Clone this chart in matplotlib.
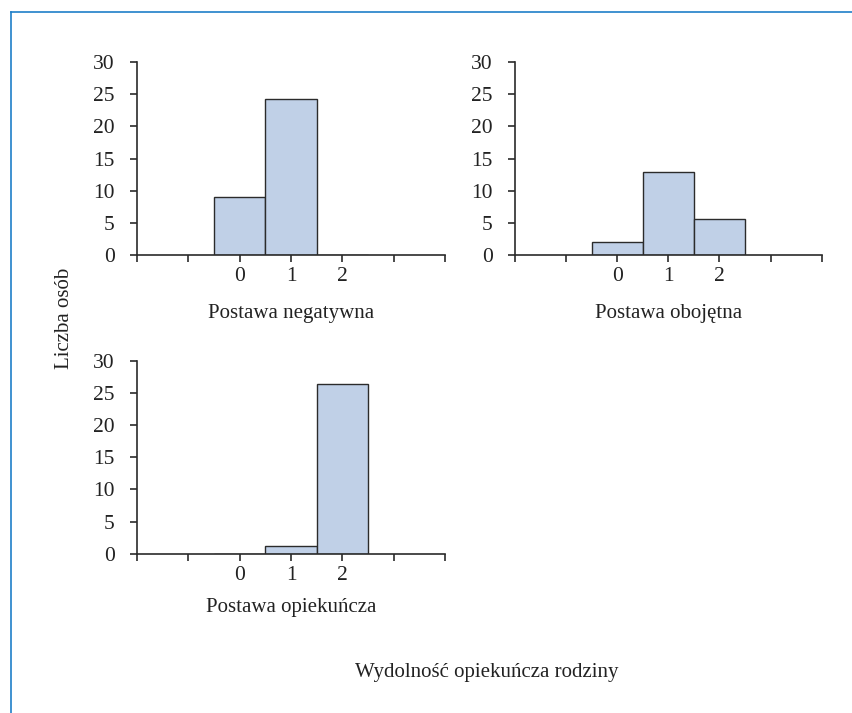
import matplotlib
matplotlib.use("Agg")
import matplotlib.pyplot as plt
from matplotlib.lines import Line2D

plt.rcParams["font.family"] = ["Liberation Serif", "DejaVu Serif"]
plt.rcParams["font.size"] = 15

# data: Wydolność opiekuńcza rodziny (0, 1, 2) vs liczba osób
levels = [0, 1, 2]
negatywna = [9, 24.2, 0]
obojetna = [2, 13, 5.6]
opiekuncza = [0, 1.2, 26.4]
titles = ["Postawa negatywna", "Postawa obojętna", "Postawa opiekuńcza"]

W, H = 853, 713
fig = plt.figure(figsize=(W / 100, H / 100), dpi=100)

boxes = [
    (137 / W, (H - 255.3) / H, 308 / W, 193.3 / H),
    (515 / W, (H - 255.3) / H, 306.7 / W, 193.3 / H),
    (137 / W, (H - 553.7) / H, 308 / W, 193 / H),
]
pads = [13, 13, 10]

tick_pos = list(range(-2, 5))
tick_lab = [str(t) if t in levels else "" for t in tick_pos]

for box, vals, title, lp in zip(boxes, [negatywna, obojetna, opiekuncza], titles, pads):
    ax = fig.add_axes(box)
    ax.bar(levels, vals, width=1.0, color="#c0d0e7", edgecolor="#2b2b2b", linewidth=1.0)
    ax.set_xlim(-2, 4)
    ax.set_ylim(0, 30)
    ax.set_yticks(range(0, 31, 5))
    ax.set_xticks(tick_pos)
    ax.set_xticklabels(tick_lab)
    ax.spines["top"].set_visible(False)
    ax.spines["right"].set_visible(False)
    for s in ("left", "bottom"):
        ax.spines[s].set_color("#2b2b2b")
        ax.spines[s].set_linewidth(1.2)
    ax.tick_params(direction="out", length=5, width=1.2, color="#2b2b2b",
                   labelcolor="#222222", labelsize=15.5)
    ax.tick_params(axis="y", pad=11)
    ax.set_xlabel(title, labelpad=lp, color="#222222")

fig.text(65 / W, 1 - 318 / H, "Liczba osób", rotation=90, ha="center", va="center", color="#222222")
fig.text(487 / W, 1 - 672 / H, "Wydolność opiekuńcza rodziny", ha="center", va="center", color="#222222")

# blue frame (left and top edges)
frame_col = "#1f7fc8"
fig.add_artist(Line2D([11.5 / W, 11.5 / W], [0, 1 - 12 / H], transform=fig.transFigure, color=frame_col, lw=1.2))
fig.add_artist(Line2D([11.5 / W, 1], [1 - 12 / H, 1 - 12 / H], transform=fig.transFigure, color=frame_col, lw=1.2))

fig.savefig("out.png", dpi=100, facecolor="white")
